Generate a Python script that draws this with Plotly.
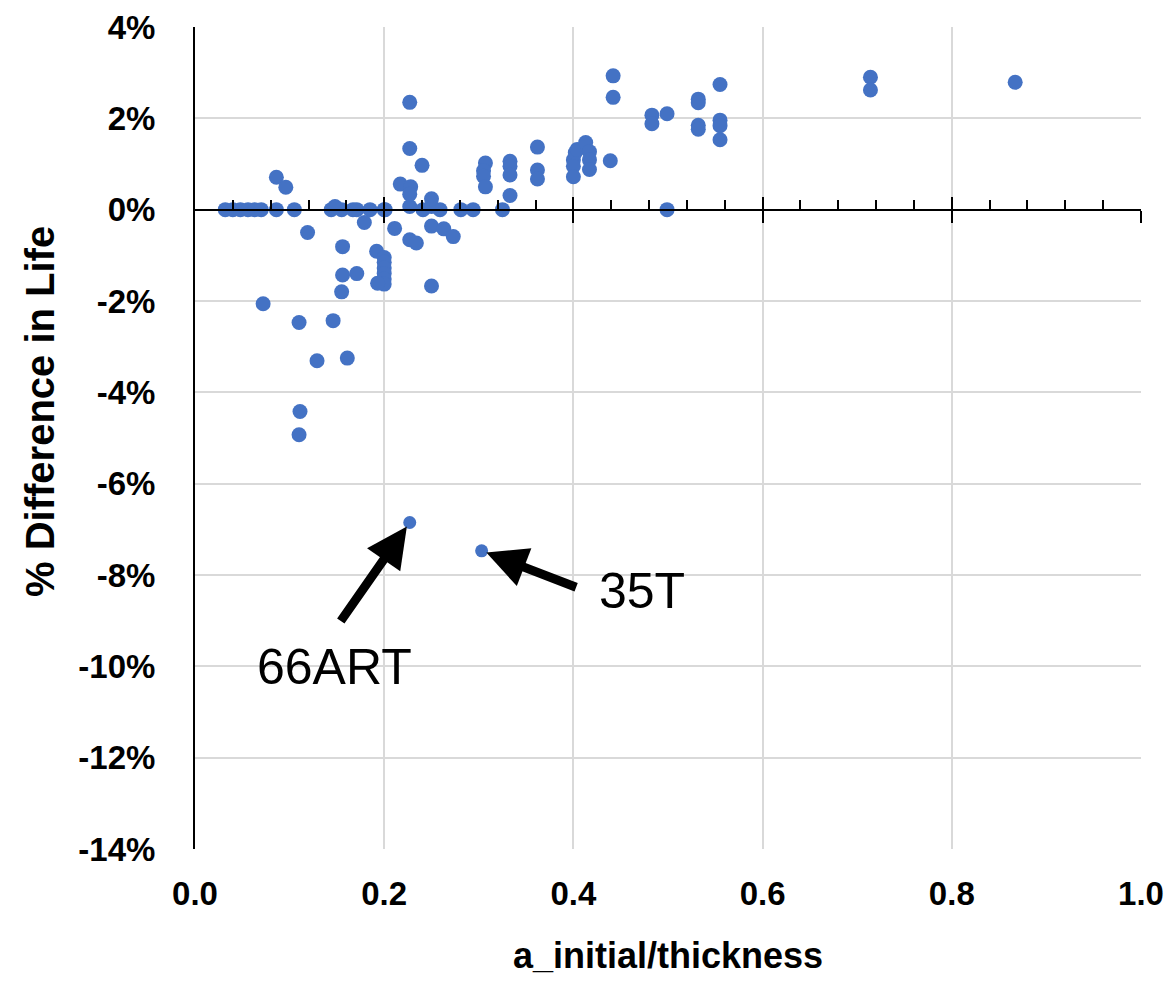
import plotly.graph_objects as go

# data: a_initial/thickness vs % difference in life
x_vals = [0.032, 0.040, 0.048, 0.056, 0.063, 0.070, 0.086, 0.105, 0.144, 0.155,
          0.167, 0.171, 0.185, 0.200, 0.201, 0.241, 0.259, 0.281, 0.294, 0.325,
          0.499, 0.148, 0.227, 0.250,
          0.086, 0.096, 0.119, 0.179, 0.156, 0.192,
          0.200, 0.200, 0.200, 0.200, 0.200, 0.200,
          0.211, 0.156, 0.171, 0.155, 0.193, 0.072, 0.110, 0.146, 0.129, 0.161,
          0.111, 0.110,
          0.227, 0.227, 0.240, 0.217, 0.228, 0.227, 0.250, 0.227, 0.234, 0.250,
          0.263, 0.273, 0.250,
          0.307, 0.305, 0.305, 0.307,
          0.333, 0.333, 0.333, 0.333,
          0.362, 0.362, 0.362,
          0.400, 0.400, 0.400, 0.402, 0.404, 0.413, 0.417, 0.417, 0.417, 0.439,
          0.442, 0.442, 0.483, 0.483, 0.499,
          0.532, 0.532, 0.532, 0.532, 0.555, 0.555, 0.555, 0.555,
          0.714, 0.714, 0.867]
y_vals = [0, 0, 0, 0, 0, 0, 0, 0, 0, 0,
          0, 0, 0, 0, 0, 0, 0, 0, 0, 0,
          0, 0.07, 0.07, 0.07,
          0.71, 0.49, -0.50, -0.28, -0.81, -0.91,
          -1.05, -1.15, -1.28, -1.40, -1.52, -1.63,
          -0.41, -1.43, -1.40, -1.80, -1.61, -2.06, -2.47, -2.43, -3.31, -3.25,
          -4.42, -4.93,
          2.35, 1.34, 0.97, 0.56, 0.50, 0.34, 0.24, -0.66, -0.73, -0.36,
          -0.42, -0.59, -1.67,
          1.02, 0.85, 0.73, 0.50,
          1.06, 0.95, 0.76, 0.31,
          1.37, 0.87, 0.67,
          1.09, 0.95, 0.72, 1.25, 1.32, 1.47, 1.27, 1.09, 0.88, 1.07,
          2.93, 2.46, 2.07, 1.88, 2.10,
          2.42, 2.34, 1.85, 1.76, 2.74, 1.96, 1.84, 1.53,
          2.90, 2.62, 2.79]

flag_names = ["66ART", "35T"]
flag_x = [0.227, 0.303]
flag_y = [-6.85, -7.47]

y_ticks = [4, 2, 0, -2, -4, -6, -8, -10, -12, -14]
x_ticks = [0.0, 0.2, 0.4, 0.6, 0.8, 1.0]

x_title = "a_initial/thickness"
y_title = "% Difference in Life"

BLUE = "#4472C4"
GRID = "#d9d9d9"

fig = go.Figure()
fig.add_trace(go.Scatter(x=x_vals, y=y_vals, mode="markers",
                         marker=dict(color=BLUE, size=15, line=dict(width=0)),
                         showlegend=False))
fig.add_trace(go.Scatter(x=flag_x, y=flag_y, mode="markers",
                         marker=dict(color=BLUE, size=13, line=dict(width=0)),
                         showlegend=False))

tickfont = dict(family="Liberation Sans", size=33, color="black", weight="bold")

# page body has an 8px default margin, so the figure is sized to sit inside the window
fig.update_layout(
    width=1160, height=967,
    margin=dict(l=187, r=27, t=19, b=126),
    paper_bgcolor="white", plot_bgcolor="white",
    xaxis=dict(range=[0, 1.0], tickvals=x_ticks, ticktext=[f"{v:.1f}" for v in x_ticks],
               showgrid=True, gridcolor=GRID, gridwidth=2, automargin=False,
               zeroline=False, showline=False, ticks="",
               tickfont=tickfont, ticklabelstandoff=22),
    yaxis=dict(range=[-14, 4], tickvals=y_ticks, ticktext=[f"{v}%" for v in y_ticks],
               showgrid=True, gridcolor=GRID, gridwidth=2, automargin=False,
               zeroline=False, showline=True, linecolor="black", linewidth=2,
               ticks="", tickfont=tickfont, ticklabelstandoff=31),
    xaxis2=dict(overlaying="x", anchor="free", position=14 / 18, matches="x",
                range=[0, 1.0], showline=True, linecolor="black", linewidth=2,
                showgrid=False, zeroline=False, showticklabels=False, automargin=False,
                tickvals=x_ticks[1:], ticks="inside", ticklen=12, tickwidth=2, tickcolor="black",
                minor=dict(dtick=0.04, tick0=0, ticks="inside", ticklen=9,
                           tickwidth=2, tickcolor="black", showgrid=False)),
    xaxis3=dict(overlaying="x", anchor="free", position=14 / 18, matches="x",
                range=[0, 1.0], showline=False, showgrid=False, zeroline=False,
                showticklabels=False, tickvals=x_ticks[1:], ticks="outside", automargin=False,
                ticklen=12, tickwidth=2, tickcolor="black"),
)
fig.add_trace(go.Scatter(x=[0], y=[0], xaxis="x2", mode="markers",
                         marker=dict(opacity=0), showlegend=False, hoverinfo="skip"))
fig.add_trace(go.Scatter(x=[0], y=[0], xaxis="x3", mode="markers",
                         marker=dict(opacity=0), showlegend=False, hoverinfo="skip"))

# axis titles
fig.add_annotation(text=x_title, xref="paper", yref="paper", x=0.5, y=0,
                   yanchor="middle", yshift=-106, showarrow=False,
                   font=dict(family="Liberation Sans", size=36, color="black", weight="bold"))
fig.add_annotation(text=y_title, xref="paper", yref="paper", x=0, y=(849 - 412) / 822,
                   xanchor="center", yanchor="middle", xshift=-155, textangle=-90,
                   showarrow=False,
                   font=dict(family="Liberation Sans", size=40, color="black", weight="bold"))

# arrow annotations
arrow_tails = [(-70, 100), (96, 37)]
text_offsets = [(-75, 145), (160, 40)]
for name, fx, fy, (ax, ay), (tx, ty) in zip(flag_names, flag_x, flag_y, arrow_tails, text_offsets):
    fig.add_annotation(x=fx, y=fy, xref="x", yref="y", text="", showarrow=True,
                       ax=ax, ay=ay, arrowhead=2, arrowsize=0.9, arrowwidth=9,
                       arrowcolor="black", standoff=5)
    fig.add_annotation(x=fx, y=fy, xref="x", yref="y", text=name, showarrow=False,
                       xshift=tx, yshift=-ty,
                       font=dict(family="Liberation Sans", size=50, color="black"))

fig.write_html("out.html")
